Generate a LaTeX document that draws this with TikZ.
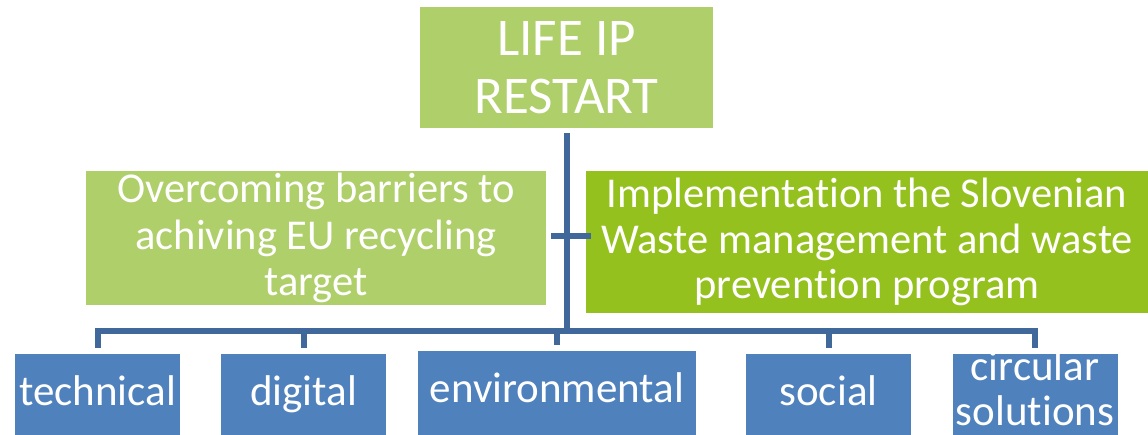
\documentclass[tikz,border=0pt]{standalone}
\usepackage{fontspec}
\setmainfont{Carlito}[Ligatures=NoCommon]
\usepackage{tikz}
\usetikzlibrary{calc}
\definecolor{lightgreen}{RGB}{175,207,106}
\definecolor{darkgreen}{RGB}{149,193,31}
\definecolor{boxblue}{RGB}{79,129,189}
\definecolor{linkblue}{RGB}{65,104,155}

\begin{document}
\begin{tikzpicture}[x=1pt,y=-1pt,
    box/.style={fill=#1,text=white,align=center,inner sep=0pt},
    leaf/.style={box=boxblue,anchor=north,minimum width=165pt,text height=51pt,text depth=40pt,font=\fontsize{43}{45}\selectfont},
    link/.style={draw=linkblue,line width=6pt}]
            \useasboundingbox (0,0) rectangle (1148,434);
            \node[box=lightgreen,minimum width=293pt,minimum height=121pt,font=\fontsize{53}{58}\selectfont] (life) at (566.5,67.5) {LIFE IP\\RESTART};
            \node[box=lightgreen,minimum width=460pt,minimum height=134pt,font=\fontsize{42.5}{46.5}\selectfont] (barriers) at (316,238) {Overcoming barriers to\\achiving EU recycling\\target};
            \node[box=darkgreen,minimum width=562pt,minimum height=142pt,font=\fontsize{42.5}{45.5}\selectfont] (program) at (867,242) {Implementation the Slovenian\\Waste management and waste\\prevention program};
            \node[leaf] (technical) at (97.5,354) {technical};
            \node[leaf] (digital) at (303.5,354) {digital};
            \node[leaf,minimum width=278pt] (environmental) at (557,351) {environmental};
            \node[leaf] (social) at (828.5,354) {social};
            \node[leaf,text height=71pt,text depth=20pt] (circular) at (1035,354) {circular\\solutions};
            \coordinate (bus) at (566,331);
            \draw[link] ([yshift=-5pt]life.south) -- (life.south |- bus);
            \draw[link] ([xshift=5pt,yshift=2pt]barriers.east) -- ([xshift=5pt,yshift=2pt]barriers.east -| program.west);
            \foreach \leafname in {technical,digital,environmental,social,circular}
                \draw[link] ([yshift=6pt]\leafname.north) |- (bus);
        \end{tikzpicture}
\end{document}
